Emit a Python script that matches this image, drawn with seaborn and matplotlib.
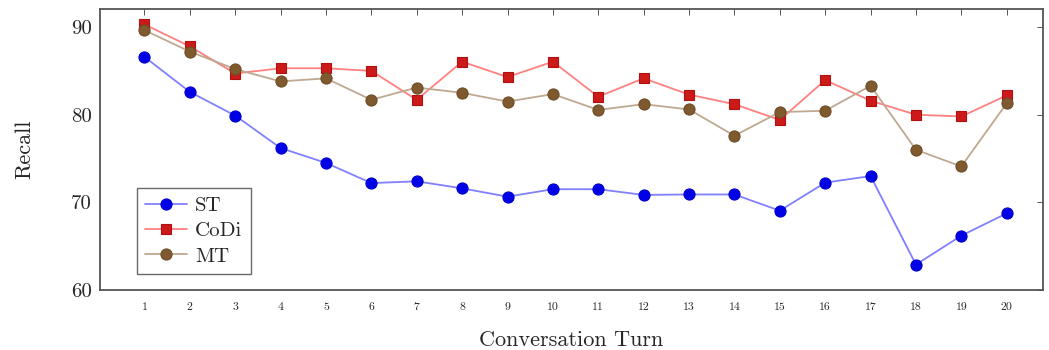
import matplotlib
matplotlib.use("Agg")
import matplotlib.pyplot as plt
import seaborn as sns
import pandas as pd

turns = list(range(1, 21))
st = [86.6, 82.6, 79.9, 76.2, 74.5, 72.2, 72.4, 71.6, 70.65, 71.5,
      71.5, 70.85, 70.9, 70.9, 69.05, 72.25, 73.0, 62.9, 66.2, 68.75]
codi = [90.3, 87.8, 84.7, 85.3, 85.3, 85.0, 81.7, 86.05, 84.3, 86.05,
        82.05, 84.15, 82.3, 81.2, 79.4, 83.95, 81.6, 80.0, 79.8, 82.2]
mt = [89.65, 87.2, 85.2, 83.8, 84.15, 81.7, 83.1, 82.5, 81.5, 82.35,
      80.55, 81.2, 80.6, 77.6, 80.3, 80.45, 83.3, 76.0, 74.1, 81.3]
series_names = ["ST", "CoDi", "MT"]

sns.set_theme(style="white")
plt.rcParams["font.family"] = ["cmr10", "DejaVu Serif"]
plt.rcParams["axes.formatter.use_mathtext"] = True
plt.rcParams["mathtext.fontset"] = "cm"

fig = plt.figure(figsize=(10.49, 3.5), dpi=100)
ax = fig.add_axes([0.0953, 0.1714, 0.8990, 0.8026])

styles = {
    "ST": dict(line="#8080ff", face="#0000e6", edge="#0000cc", marker="o", ms=8),
    "CoDi": dict(line="#ff8080", face="#cc1a1a", edge="#b01010", marker="s", ms=7.5),
    "MT": dict(line="#bfa890", face="#7f5a2e", edge="#6e4c26", marker="o", ms=8),
}
for name, vals in zip(series_names, [st, codi, mt]):
    s = styles[name]
    df = pd.DataFrame({"turn": turns, "recall": vals})
    sns.lineplot(data=df, x="turn", y="recall", ax=ax, color=s["line"],
                 marker=s["marker"], markersize=s["ms"],
                 markerfacecolor=s["face"], markeredgecolor=s["edge"],
                 markeredgewidth=0.8, linewidth=1.3, label=name)

ax.set_xlim(0.02, 20.8)
ax.set_ylim(60, 92.05)
ax.set_xticks(turns)
ax.set_xticklabels([str(t) for t in turns], fontsize=8.5)
ax.set_yticks([60, 70, 80, 90])
ax.set_yticklabels(["60", "70", "80", "90"], fontsize=15)
ax.tick_params(axis="both", direction="in", top=True, right=True,
               length=4, width=0.7, color="#555555", pad=6)
ax.tick_params(axis="x", pad=9)
for sp in ax.spines.values():
    sp.set_color("#555555")
    sp.set_linewidth(1.3)

ax.set_xlabel("Conversation Turn", fontsize=16, labelpad=13)
ax.set_ylabel("Recall", fontsize=16, labelpad=26)

leg = ax.legend(loc="lower left", bbox_to_anchor=(0.028, 0.02),
                fontsize=15, frameon=True, fancybox=False,
                edgecolor="#444444", handlelength=2.0, borderpad=0.4,
                labelspacing=0.32, handletextpad=0.4)
leg.get_frame().set_linewidth(1.0)

fig.savefig("out.png", dpi=100)
